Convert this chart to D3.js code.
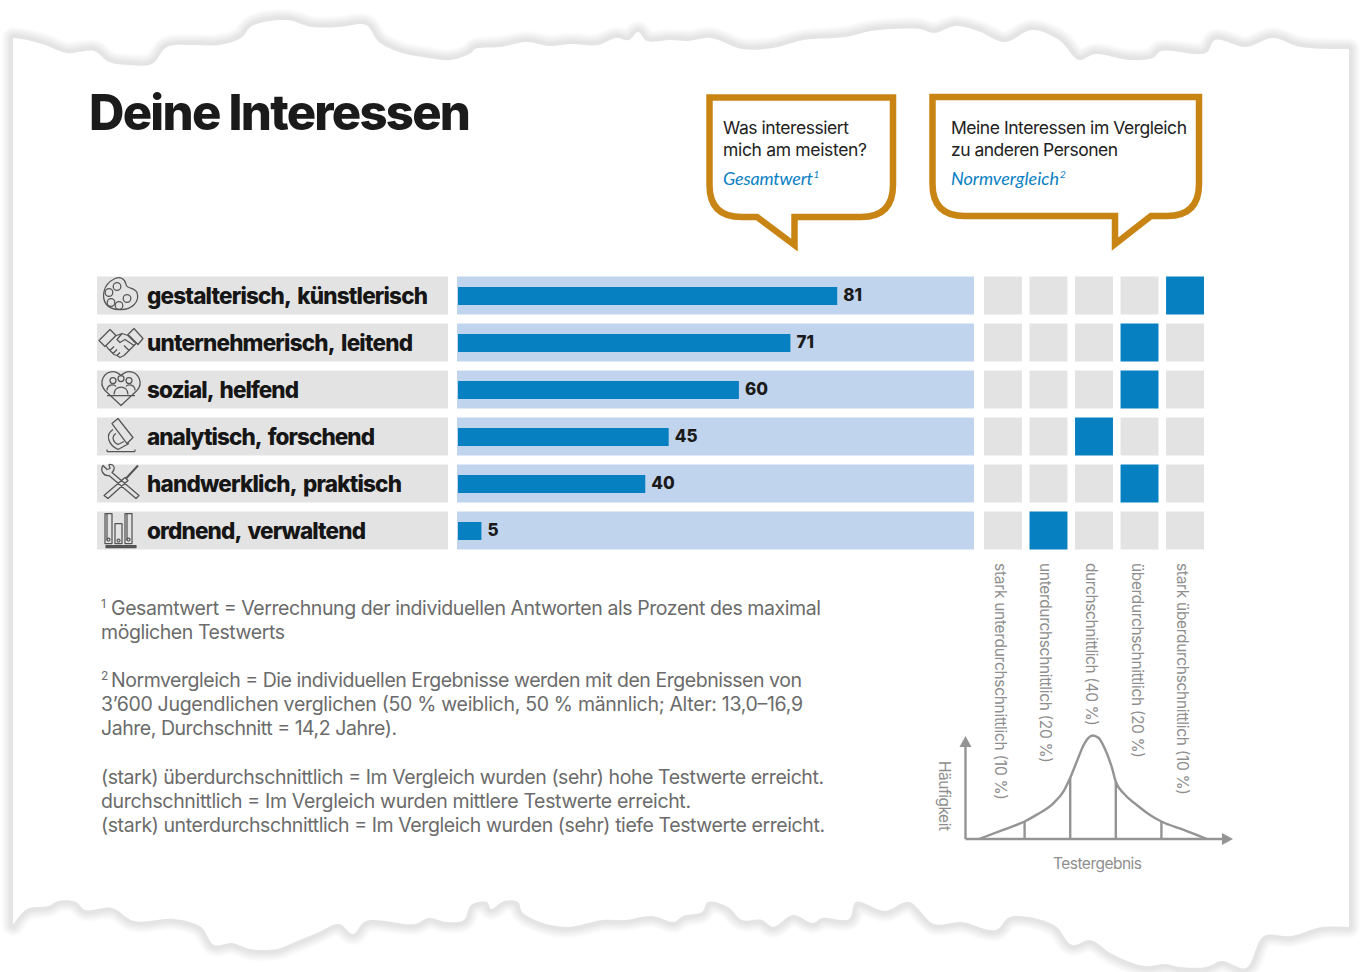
<!DOCTYPE html>
<html><head><meta charset="utf-8">
<script src="https://cdn.jsdelivr.net/npm/d3@7"></script>
<style>html,body{margin:0;padding:0;background:#fff}svg{display:block}</style>
</head><body><svg id="c" width="1366" height="972"></svg>
<script>
const categories=["gestalterisch, künstlerisch","unternehmerisch, leitend","sozial, helfend","analytisch, forschend","handwerklich, praktisch","ordnend, verwaltend"];
const labelWidths=[281,266,152,228,255,219];
const totals=[81,71,60,45,40,5];
const normClass=[4,3,3,2,3,1];
const normLabels=["stark unterdurchschnittlich (10 %)","unterdurchschnittlich (20 %)","durchschnittlich (40 %)","überdurchschnittlich (20 %)","stark überdurchschnittlich (10 %)"];
const normLabelLengths=[237,200,163,195,232];
const curveX=[0,.53,1,1.26,1.63,1.85,2,2.14,2.29,2.4,2.49,2.62,2.76,2.91,3,3.17,3.46,3.75,4,4.49,5];
const curveY=[0,8.9,16.9,23.3,34.5,45.7,59.1,74.4,90.4,97.8,100,97.8,87.2,69.6,55.3,44.1,32.9,23.3,16.9,8.9,0];
const cutX=[1,2,3,4];
const cutY=[16.9,59.1,55.3,16.9];
const footnotes=[
 ["1","Gesamtwert = Verrechnung der individuellen Antworten als Prozent des maximal",111,615,710],
 ["","möglichen Testwerts",101,639,184],
 ["2","Normvergleich = Die individuellen Ergebnisse werden mit den Ergebnissen von",111,687,691],
 ["","3’600 Jugendlichen verglichen (50 % weiblich, 50 % männlich; Alter: 13,0–16,9",101,711,702],
 ["","Jahre, Durchschnitt = 14,2 Jahre).",101,735,296],
 ["","(stark) überdurchschnittlich = Im Vergleich wurden (sehr) hohe Testwerte erreicht.",101,784,723],
 ["","durchschnittlich = Im Vergleich wurden mittlere Testwerte erreicht.",101,808,590],
 ["","(stark) unterdurchschnittlich = Im Vergleich wurden (sehr) tiefe Testwerte erreicht.",101,832,724]];
const tornTop=[[13,38],[13,38],[27,40],[45,45],[67,53],[94,51],[109,62],[129,65],[152,64],[167,47],[192,45],[219,45],[241,38],[252,26],[286,20],[312,27],[339,27],[366,25],[379,42],[402,53],[429,58],[451,60],[471,53],[475,49],[500,47],[527,42],[549,46],[571,44],[598,45],[616,38],[629,40],[638,32],[647,41],[670,40],[688,41],[711,38],[742,49],[773,48],[804,40],[845,37],[871,31],[894,29],[920,29],[934,33],[956,26],[978,31],[1005,42],[1032,30],[1059,40],[1079,60],[1095,54],[1130,60],[1153,58],[1161,51],[1206,53],[1215,40],[1246,47],[1273,38],[1300,47],[1349,49],[1349,49]];
const tornBottom=[[1349,927],[1349,927],[1322,927],[1291,936],[1264,936],[1246,968],[1222,961],[1206,967],[1179,967],[1166,964],[1144,966],[1112,954],[1090,940],[1072,945],[1054,925],[1010,917],[996,930],[961,922],[934,924],[909,902],[885,911],[856,902],[849,919],[822,918],[813,923],[793,915],[773,927],[762,920],[742,920],[728,907],[708,902],[702,912],[683,916],[674,922],[652,916],[625,920],[603,920],[567,927],[540,922],[522,912],[518,902],[504,901],[491,909],[487,902],[471,905],[464,920],[446,922],[429,918],[415,924],[366,921],[353,934],[339,924],[317,933],[295,942],[277,949],[250,949],[232,943],[214,945],[201,927],[174,919],[134,921],[112,908],[85,910],[76,902],[58,901],[49,906],[27,909],[13,925],[13,925]];

const SANS="Inter,Roboto,sans-serif", HEAVY="Inter,Roboto,sans-serif";
const BLUE="#0780c2",PALE="#c1d4ee",CELL="#e3e3e3",GOLD="#c98514",GREY="#6b6b6b",LGREY="#8e8e8e",LINEGREY="#949494";
const svg=d3.select("#c");
const defs=svg.append("defs");
defs.append("filter").attr("id","b1").attr("x","-5%").attr("y","-5%").attr("width","110%").attr("height","110%")
  .append("feGaussianBlur").attr("stdDeviation",1.8);

// torn paper
const edge=d3.line().curve(d3.curveCatmullRom.alpha(0.5));
const paper=edge(tornTop)+"L"+edge(tornBottom).slice(1)+"Z";
[[19,"#f2f2f2"],[10,"#e4e4e4"]].forEach(([w,c])=>svg.append("path").attr("d",paper).attr("fill",c).attr("stroke",c).attr("stroke-width",w).attr("stroke-linejoin","round").attr("filter","url(#b1)"));
svg.append("path").attr("d",paper).attr("fill","#fff");

function txt(g,s,x,y,o){const t=g.append("text").attr("x",x).attr("y",y).text(s)
  .attr("font-family",o.f||SANS).attr("font-size",o.s).attr("fill",o.c||"#222")
  .attr("font-weight",o.w||400).attr("font-style",o.i?"italic":null);
  if(o.ws)t.attr("word-spacing",o.ws);
  if(o.len)t.attr("textLength",o.len).attr("lengthAdjust","spacing");
  if(o.t)t.attr("transform",o.t);return t;}

// title
txt(svg,"Deine Interessen",89,130,{f:HEAVY,s:49,w:800,c:"#1b1b1b",len:382});

// bubbles
const bubble=(l,r,t,b,baseA,baseB,tipX,tipY,rad)=>{
  const p=d3.path();p.moveTo(l,t);p.lineTo(r,t);p.lineTo(r,b-rad);p.quadraticCurveTo(r,b,r-rad,b);
  p.lineTo(baseB,b);p.lineTo(tipX,tipY);p.lineTo(baseA,b);p.lineTo(l+rad,b);p.quadraticCurveTo(l,b,l,b-rad);p.closePath();return p.toString();};
svg.append("path").attr("d",bubble(709.5,893,97.5,217,757,794.5,794.5,245,32)).attr("fill","#fff").attr("stroke",GOLD).attr("stroke-width",6.5).attr("stroke-miterlimit",10);
svg.append("path").attr("d",bubble(932.5,1199,97,216,1115,1151,1115,244,32)).attr("fill","#fff").attr("stroke",GOLD).attr("stroke-width",6.5).attr("stroke-miterlimit",10);
txt(svg,"Was interessiert",723,134,{s:17.5,len:126});
txt(svg,"mich am meisten?",723,156,{s:17.5,len:144});
txt(svg,"Meine Interessen im Vergleich",951,134,{s:17.5,len:236});
txt(svg,"zu anderen Personen",951,156,{s:17.5,len:167});
txt(svg,"Gesamtwert",723,185,{f:"Lato",s:18,i:1,c:"#0a7fc4",len:90});
txt(svg,"1",813.5,178,{f:"Lato",s:10,i:1,c:"#0a7fc4"});
txt(svg,"Normvergleich",951,185,{f:"Lato",s:18,i:1,c:"#0a7fc4",len:108});
txt(svg,"2",1060,178,{f:"Lato",s:10,i:1,c:"#0a7fc4"});

// rows
const y=d3.scaleBand().domain(categories).range([276.5,549.5]).paddingInner(9/47);
const x=d3.scaleLinear().domain([0,110]).range([458,973]);
const col=d3.scaleBand().domain(d3.range(5)).range([984,1204]).paddingInner(1/6);
const rows=svg.selectAll("g.row").data(categories).join("g").attr("class","row").attr("transform",d=>`translate(0,${y(d)})`);
const bw=y.bandwidth();
rows.append("rect").attr("x",97).attr("width",351).attr("height",bw).attr("fill",CELL);
rows.append("rect").attr("x",457).attr("width",517).attr("height",bw).attr("fill",PALE);
rows.append("rect").attr("x",x(0)).attr("y",(bw-18)/2+.5).attr("width",(d,i)=>x(totals[i])-x(0)).attr("height",18).attr("fill",BLUE);
rows.each(function(d,i){const g=d3.select(this);
  txt(g,d,147,bw/2+8.5,{f:HEAVY,s:22.5,w:800,c:"#161616",len:labelWidths[i],ws:3});
  txt(g,totals[i],x(totals[i])+6,bw/2+5.5,{f:HEAVY,s:17,w:800,c:"#1a1a1a"});
  col.domain().forEach(k=>g.append("rect").attr("x",col(k)).attr("width",col.bandwidth()).attr("height",bw).attr("fill",k===normClass[i]?BLUE:CELL));
});

// icons (decorative line drawings, local coordinates around the row centre)
const iconPaths=[
 {d:"M-6,-17C-1,-19 4,-17 5,-11C6,-6 13,-9 16,-3C19,6 11,15 -2,14C-14,14 -19,6 -17,-4C-16,-10 -12,-14 -6,-17Z",c:[[-12,-3,3.8],[-4,-9,3.8],[-10,7,3.8],[-2,10,3.8],[6,3,3.8]]},
 {d:"M-22,-2L-11,-13L-5,-7L-16,4ZM22,-4L13,-14L7,-8L17,2ZM-7,-6L1,-9L7,-7L15,1L3,13L-1,15L-4,13L-7,12L-10,9L-13,6L-15,3M1,-9L-4,-3L-1,0L4,-3L13,3M-7,4L-11,8M-4,7L-8,11M-1,10L-4,13M3,3L8,8"},
 {d:"M0,16L-16,1C-23,-7 -17,-18 -8,-18C-4,-18 -2,-16 0,-14C2,-16 4,-18 8,-18C17,-18 23,-7 16,1ZM-14,1C-14,-5 -7,-6 -5,-3M14,1C14,-5 7,-6 5,-3M-7,5C-7,-5 7,-5 7,5M-14,6H14",c:[[-8,-9,3],[0,-11,3],[8,-9,3]]},
 {d:"M-9,-13L-3,-18L12,1L6,7ZM-8,-7C-16,-2 -13,8 -3,13L8,7M-5,-3C-10,0 -8,6 -3,8L3,5M-14,15H14M-14,13V15M14,13V15"},
 {d:"M-9,-11L18,12L15,15L-12,-8C-18,-7 -21,-14 -18,-18L-14,-14L-11,-15L-12,-19C-7,-20 -5,-15 -9,-11ZM4,-6L7,-3L-13,15L-17,12Z",thin:"M17,-18L5,-5"},
 {d:"M-16,-17H-9V13H-16ZM-6,-7H1V13H-6ZM4,-17H11V13H4ZM-14,-17V10M6,-17V10",c:[[-12.5,9,1.5],[-2.5,10,1.5],[7.5,9,1.5]],bar:1}];
rows.each(function(d,i){const ic=iconPaths[i];
  const g=d3.select(this).append("g").attr("transform",`translate(121,${bw/2})`).attr("fill","none").attr("stroke","#555").attr("stroke-width",1.25).attr("stroke-linejoin","round");
  g.append("path").attr("d",ic.d);
  if(ic.thin)g.append("path").attr("d",ic.thin).attr("stroke-width",2);
  (ic.c||[]).forEach(c=>g.append("circle").attr("cx",c[0]).attr("cy",c[1]).attr("r",c[2]));
  if(ic.bar)g.append("rect").attr("x",-15).attr("y",15).attr("width",30).attr("height",2).attr("fill","#555");
});

// rotated norm labels
normLabels.forEach((s,i)=>{const bx=col(i)+col.bandwidth()/2-8;
  txt(svg,s,0,0,{s:15.5,c:LGREY,len:normLabelLengths[i],t:`translate(${bx},563) rotate(90)`});});

// bell curve
const cx=d3.scaleLinear().domain([0,5]).range([979,1207]);
const cy=d3.scaleLinear().domain([0,100]).range([839,735.5]);
const bell=svg.append("g").attr("fill","none").attr("stroke",LINEGREY).attr("stroke-width",2.4);
bell.append("path").attr("d",d3.line().x(d=>cx(d[0])).y(d=>cy(d[1])).curve(d3.curveMonotoneX)(d3.zip(curveX,curveY)));
cutX.forEach((c,i)=>bell.append("line").attr("x1",cx(c)).attr("x2",cx(c)).attr("y1",cy(0)).attr("y2",cy(cutY[i])));
bell.append("line").attr("x1",965.5).attr("x2",965.5).attr("y1",839).attr("y2",745);
bell.append("line").attr("x1",965.5).attr("x2",1223).attr("y1",839).attr("y2",839);
svg.append("path").attr("d",d3.line()([[965.5,736],[971.5,747],[959.5,747]])+"Z").attr("fill",LINEGREY);
svg.append("path").attr("d",d3.line()([[1233,839],[1222,833],[1222,845]])+"Z").attr("fill",LINEGREY);
txt(svg,"Häufigkeit",0,0,{s:15.5,c:LGREY,len:70,t:"translate(938.5,761) rotate(90)"});
txt(svg,"Testergebnis",1053,868.5,{s:15.5,c:LGREY,len:89});

// footnotes
footnotes.forEach(f=>{
  if(f[0])txt(svg,f[0],101,f[3]-7,{s:12,c:GREY});
  txt(svg,f[1],f[2],f[3],{s:19.5,c:GREY,len:f[4]});
});
</script>
</body></html>
